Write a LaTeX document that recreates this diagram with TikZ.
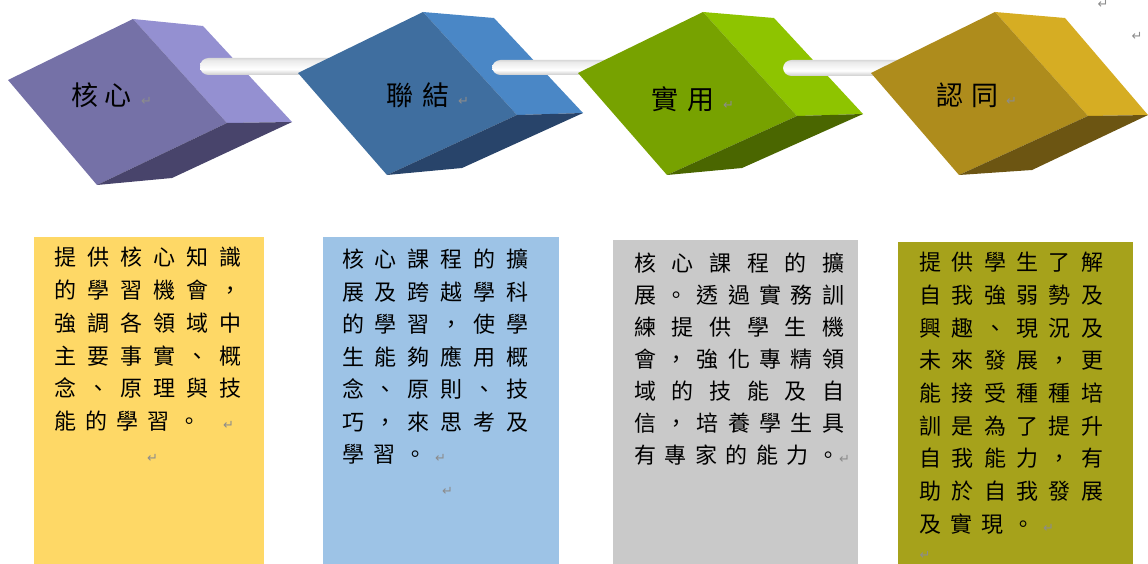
\documentclass[tikz,border=0pt]{standalone}
\usepackage{fontspec}
\newfontfamily\cjk{Noto Sans CJK TC}
\newfontfamily\dv{DejaVu Sans}
\makeatletter
\newcommand\spc[2]{\@tfor\mych:=#2\do{\makebox[#1][l]{\mych}}}
\newcommand\jl[2]{\makebox[#1][s]{\@tfor\mych:=#2\do{\mych\hfill}\unskip}}
\makeatother
\definecolor{retgray}{HTML}{8C8C8C}
\definecolor{puF}{HTML}{7571A7}\definecolor{puR}{HTML}{9490D1}\definecolor{puB}{HTML}{48446B}
\definecolor{blF}{HTML}{3F6E9F}\definecolor{blR}{HTML}{4A87C6}\definecolor{blB}{HTML}{28446A}
\definecolor{grF}{HTML}{77A200}\definecolor{grR}{HTML}{8EC400}\definecolor{grB}{HTML}{4A6600}
\definecolor{goF}{HTML}{AE8C1C}\definecolor{goR}{HTML}{D6AD23}\definecolor{goB}{HTML}{6C5512}
\definecolor{box1}{HTML}{FED866}\definecolor{box2}{HTML}{9DC3E6}
\definecolor{box3}{HTML}{C9C9C9}\definecolor{box4}{HTML}{A6A21B}
\newcommand\ret{{\dv\fontsize{13pt}{13pt}\selectfont\textcolor{retgray}{↵}}}
\pgfdeclareverticalshading{pipe}{100bp}{color(0bp)=(black!50); color(18bp)=(black!28); color(42bp)=(white); color(68bp)=(white!92!black); color(88bp)=(black!28); color(100bp)=(black!55)}
\tikzset{
  boxtext/.style={inner sep=0pt, align=left, anchor=north west},
  lbl/.style={inner sep=0pt, anchor=west, font=\cjk\fontsize{27pt}{27pt}\selectfont},
  pipeshape/.style={shading=pipe, rounded corners=8.5pt},
  retmark/.style={inner sep=0pt}
}
\begin{document}
\begin{tikzpicture}[x=1pt,y=-1pt]
\useasboundingbox (0,0) rectangle (1148,564);
% cube 1
\fill[puR] (133,19) -- (203,26) -- (292,122) -- (227,123) -- cycle;
\fill[puF] (8,80) -- (133,19) -- (227,123) -- (97,185) -- cycle;
\fill[puB] (227,123) -- (292,122) -- (172,178) -- (97,185) -- cycle;
\shade[pipeshape] (200,58) rectangle (345,75);
% cube 2
\fill[blR] (423,12) -- (494,18) -- (583,113) -- (517,115) -- cycle;
\fill[blF] (298,73) -- (423,12) -- (517,115) -- (387,175) -- cycle;
\fill[blB] (517,115) -- (583,113) -- (462,168) -- (387,175) -- cycle;
\shade[pipeshape] (492,60) rectangle (620,75);
% cube 3
\fill[grR] (703,12) -- (774,18) -- (863,114) -- (797,116) -- cycle;
\fill[grF] (578,73) -- (703,12) -- (797,116) -- (667,175) -- cycle;
\fill[grB] (797,116) -- (863,114) -- (742,168) -- (667,175) -- cycle;
\shade[pipeshape] (783,60) rectangle (910,76);
% cube 4
\fill[goR] (995,12) -- (1065,18) -- (1148,115) -- (1088,116) -- cycle;
\fill[goF] (871,73) -- (995,12) -- (1088,116) -- (959,175) -- cycle;
\fill[goB] (1088,116) -- (1148,115) -- (1032,170) -- (959,175) -- cycle;
% labels
\node[lbl] (l1) at (71,95) {\spc{33pt}{核心}\hspace{4pt}\ret};
\node[lbl] (l2) at (386,95) {\spc{36pt}{聯結}\ret};
\node[lbl] (l3) at (651,99) {\spc{36pt}{實用}\ret};
\node[lbl] (l4) at (936,95) {\spc{35pt}{認同}\ret};
\node[retmark] (r1) at (1103,4) {\ret};
\node[retmark] (r2) at (1137,36) {\ret};
% boxes
\fill[box1] (34,237) rectangle (264,564);
\fill[box2] (323,237) rectangle (559,564);
\fill[box3] (613,240) rectangle (858,564);
\fill[box4] (898,242) rectangle (1133,564);
\node[boxtext, font=\cjk\fontsize{22pt}{32.8pt}\selectfont] (t1) at (54,247) {%
\jl{187pt}{提供核心知識}\\
\jl{187pt}{的學習機會，}\\
\jl{187pt}{強調各領域中}\\
\jl{187pt}{主要事實、概}\\
\jl{187pt}{念、原理與技}\\
\spc{31pt}{能的學習。}\hspace{14pt}\ret\\
\hspace*{93pt}\ret};
\node[boxtext, font=\cjk\fontsize{22pt}{32.5pt}\selectfont] (t2) at (342,249) {%
\jl{186pt}{核心課程的擴}\\
\jl{186pt}{展及跨越學科}\\
\jl{186pt}{的學習，使學}\\
\jl{186pt}{生能夠應用概}\\
\jl{186pt}{念、原則、技}\\
\jl{186pt}{巧，來思考及}\\
\spc{31pt}{學習。}\ret\\
\hspace*{100pt}\ret};
\node[boxtext, font=\cjk\fontsize{22pt}{32pt}\selectfont] (t3) at (634,253) {%
\jl{210pt}{核心課程的擴}\\
\jl{210pt}{展。透過實務訓}\\
\jl{210pt}{練提供學生機}\\
\jl{210pt}{會，強化專精領}\\
\jl{210pt}{域的技能及自}\\
\jl{210pt}{信，培養學生具}\\
\jl{205pt}{有專家的能力。}\ret};
\node[boxtext, font=\cjk\fontsize{22pt}{32.7pt}\selectfont] (t4) at (919,252) {%
\jl{184pt}{提供學生了解}\\
\jl{184pt}{自我強弱勢及}\\
\jl{184pt}{興趣、現況及}\\
\jl{184pt}{未來發展，更}\\
\jl{184pt}{能接受種種培}\\
\jl{184pt}{訓是為了提升}\\
\jl{184pt}{自我能力，有}\\
\jl{184pt}{助於自我發展}\\
\spc{31pt}{及實現。}\ret};
\node[retmark] (r3) at (925,555) {\ret};
\end{tikzpicture}
\end{document}
